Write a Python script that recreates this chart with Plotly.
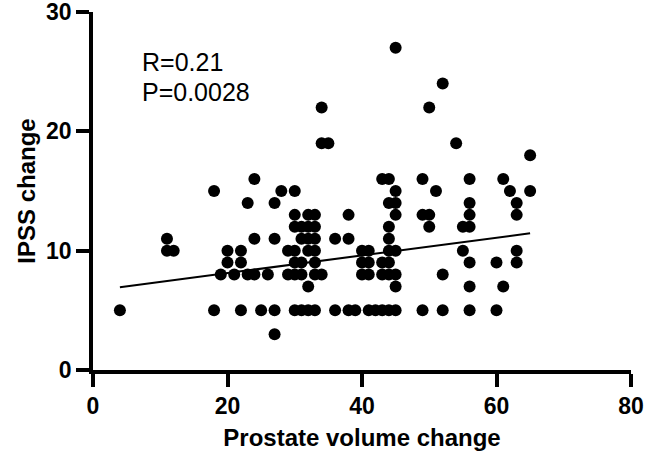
import plotly.graph_objects as go

# Prostate volume change (x) and IPSS change (y)
prostate_volume_change = [
    4,
    11, 11, 12,
    18, 18,
    19,
    20, 20,
    21,
    22, 22, 22,
    23, 23,
    24, 24, 24,
    25,
    26,
    27, 27, 27, 27,
    28,
    29, 29,
    30, 30, 30, 30, 30, 30, 30,
    31, 31, 31, 31, 31,
    32, 32, 32, 32, 32, 32,
    33, 33, 33, 33, 33, 33, 33,
    34, 34, 34,
    35,
    36, 36,
    38, 38, 38,
    39,
    40, 40, 40,
    41, 41, 41, 41,
    42,
    43, 43, 43, 43,
    44, 44, 44, 44, 44, 44, 44, 44,
    45, 45, 45, 45, 45, 45, 45, 45,
    49, 49, 49,
    50, 50, 50,
    51,
    52, 52, 52,
    54,
    55, 55,
    56, 56, 56, 56, 56, 56, 56,
    60, 60,
    61, 61,
    62,
    63, 63, 63, 63,
    65, 65,
]
ipss_change = [
    5,
    11, 10, 10,
    15, 5,
    8,
    10, 9,
    8,
    10, 9, 5,
    14, 8,
    16, 11, 8,
    5,
    8,
    14, 11, 5, 3,
    15,
    10, 8,
    15, 13, 12, 10, 9, 8, 5,
    12, 11, 9, 8, 5,
    13, 12, 11, 10, 7, 5,
    13, 12, 11, 10, 9, 8, 5,
    22, 19, 8,
    19,
    11, 5,
    13, 11, 5,
    5,
    10, 9, 8,
    10, 9, 8, 5,
    5,
    16, 9, 8, 5,
    16, 14, 12, 11, 10, 9, 8, 5,
    27, 15, 14, 13, 10, 8, 7, 5,
    16, 13, 5,
    22, 13, 12,
    15,
    24, 8, 5,
    19,
    12, 10,
    16, 14, 13, 12, 9, 7, 5,
    9, 5,
    16, 7,
    15,
    14, 13, 10, 9,
    18, 15,
]

# Regression line end points
fit_x = [4, 65]
fit_y = [6.93, 11.46]

stats_labels = ["R=0.21", "P=0.0028"]
stats_x = [7.0, 7.0]
stats_y = [25.8, 23.3]

x_ticks = [0, 20, 40, 60, 80]
y_ticks = [0, 10, 20, 30]

FONT = "Liberation Sans, Arial, sans-serif"

fig = go.Figure()
fig.add_trace(go.Scatter(
    x=fit_x, y=fit_y, mode="lines",
    line=dict(color="black", width=2),
    hoverinfo="skip", showlegend=False,
))
fig.add_trace(go.Scatter(
    x=prostate_volume_change, y=ipss_change, mode="markers",
    marker=dict(color="black", size=12, line=dict(width=0)),
    showlegend=False, cliponaxis=False,
))

for label, ax_, ay_ in zip(stats_labels, stats_x, stats_y):
    fig.add_annotation(
        x=ax_, y=ay_, xref="x", yref="y", text=label, showarrow=False,
        xanchor="left", yanchor="middle",
        font=dict(family=FONT, size=25, color="black"),
    )

axis_common = dict(
    showgrid=False, zeroline=False, automargin=False,
    showline=True, linecolor="black", linewidth=3.5,
    ticks="outside", ticklen=13, tickwidth=3.5, tickcolor="black",
    ticklabeloverflow="allow",
    tickfont=dict(family=FONT, size=23, color="black", weight="bold"),
)

fig.update_xaxes(
    range=[0, 80], tickvals=x_ticks, ticktext=[str(v) for v in x_ticks],
    title=dict(text="<b>Prostate volume change</b>",
               font=dict(family=FONT, size=24, color="black"), standoff=12),
    **axis_common,
)
fig.update_yaxes(
    range=[0, 30], tickvals=y_ticks, ticktext=[str(v) for v in y_ticks],
    title=dict(text="<b>IPSS change</b>",
               font=dict(family=FONT, size=24, color="black"), standoff=5),
    **axis_common,
)

fig.update_layout(
    width=646, height=464,
    margin=dict(l=93, r=15, t=12, b=94, pad=0),
    plot_bgcolor="white", paper_bgcolor="white",
    showlegend=False,
)

fig.write_html("out.html")
